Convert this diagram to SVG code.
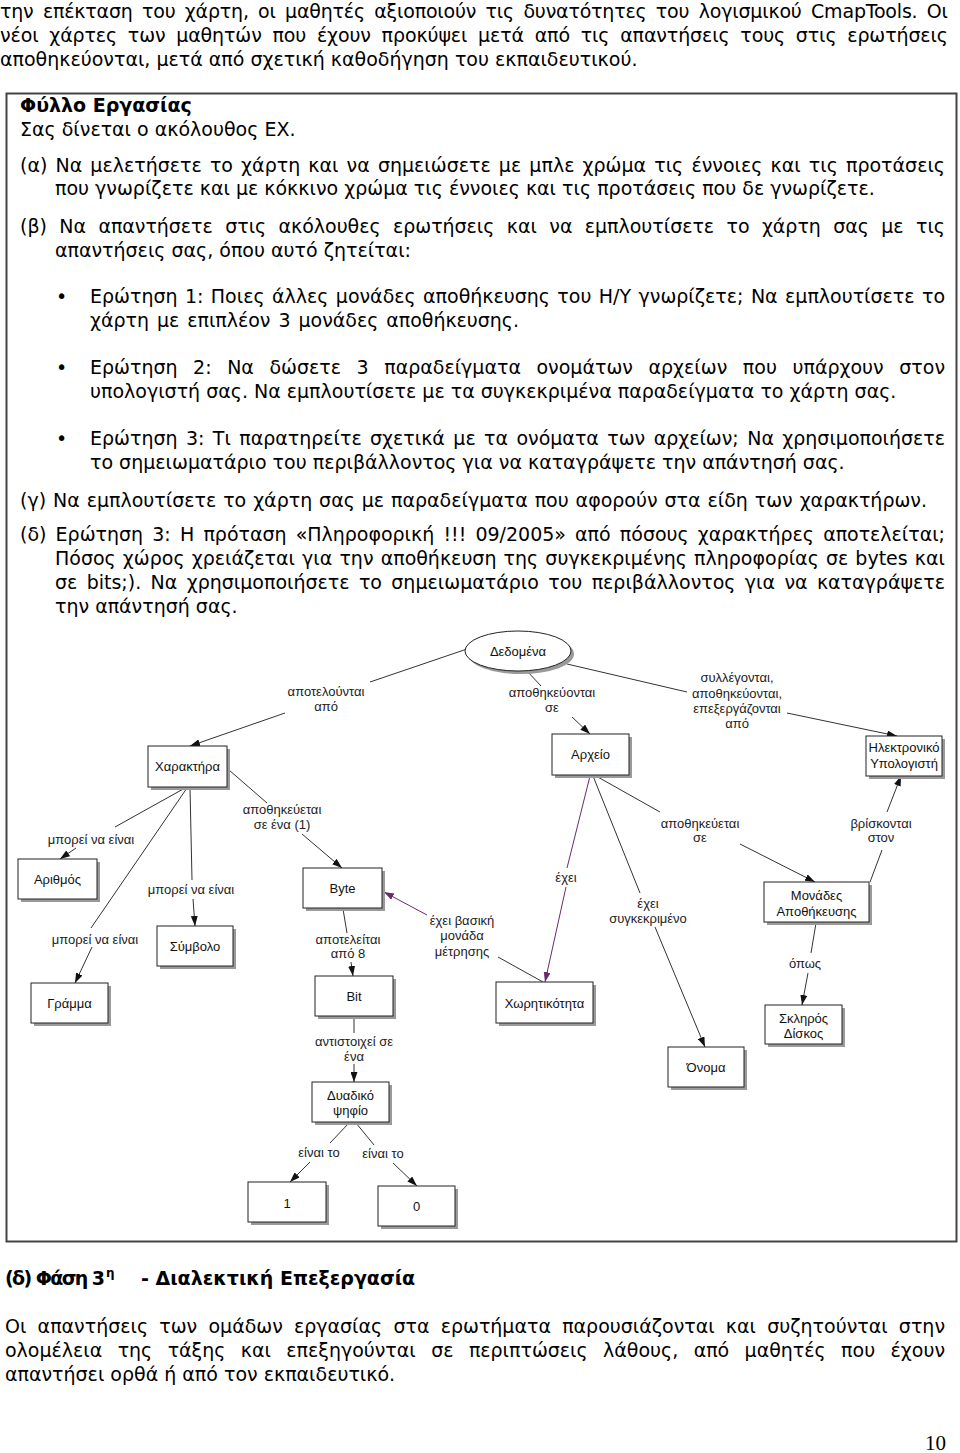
<svg xmlns="http://www.w3.org/2000/svg" width="960" height="1453" viewBox="0 0 960 1453">
<style>
.t{font-family:"DejaVu Sans",Verdana,sans-serif;font-size:19px;fill:#000}
.b{font-weight:bold}
.n{font-family:"Liberation Sans",Arial,sans-serif;font-size:13px;fill:#111;text-anchor:middle}
.l{font-family:"Liberation Sans",Arial,sans-serif;font-size:13px;fill:#222;text-anchor:middle}
.box{fill:#fff;stroke:#222;stroke-width:1}
.sh{fill:#9a9a9a}
.c{stroke:#333;stroke-width:1;fill:none}
.a{marker-end:url(#ah)}
.p{stroke:#6b2a6b}
.pa{marker-end:url(#ahp)}
</style>
<defs>
<marker id="ah" markerUnits="userSpaceOnUse" markerWidth="10" markerHeight="7" refX="10" refY="3.5" orient="auto"><path d="M0,0 L10,3.5 L0,7 z" fill="#111"/></marker>
<marker id="ahp" markerUnits="userSpaceOnUse" markerWidth="10" markerHeight="7" refX="10" refY="3.5" orient="auto"><path d="M0,0 L10,3.5 L0,7 z" fill="#6b2a6b"/></marker>
</defs>
<rect width="960" height="1453" fill="#fff"/>

<g id="text-top">
<text class="t" x="0" y="18" word-spacing="3.5" textLength="948" lengthAdjust="spacing">την επέκταση του χάρτη, οι μαθητές αξιοποιούν τις δυνατότητες του λογισμικού CmapTools. Οι</text>
<text class="t" x="0" y="42" word-spacing="4.8" textLength="948" lengthAdjust="spacing">νέοι χάρτες των μαθητών που έχουν προκύψει μετά από τις απαντήσεις τους στις ερωτήσεις</text>
<text class="t" x="0" y="66">αποθηκεύονται, μετά από σχετική καθοδήγηση του εκπαιδευτικού.</text>
</g>

<rect x="6.5" y="93.5" width="950" height="1148" fill="none" stroke="#444" stroke-width="2"/>

<g id="worksheet">
<text class="t b" x="20" y="112">Φύλλο Εργασίας</text>
<text class="t" x="20" y="136">Σας δίνεται ο ακόλουθος ΕΧ.</text>
<text class="t" x="20" y="172" word-spacing="2.1" textLength="925" lengthAdjust="spacing">(α) Να μελετήσετε το χάρτη και να σημειώσετε με μπλε χρώμα τις έννοιες και τις προτάσεις</text>
<text class="t" x="55" y="195">που γνωρίζετε και με κόκκινο χρώμα τις έννοιες και τις προτάσεις που δε γνωρίζετε.</text>
<text class="t" x="20" y="233" word-spacing="6.4" textLength="925" lengthAdjust="spacing">(β) Να απαντήσετε στις ακόλουθες ερωτήσεις και να εμπλουτίσετε το χάρτη σας με τις</text>
<text class="t" x="55" y="257">απαντήσεις σας, όπου αυτό ζητείται:</text>
<text class="t" x="56" y="303">•</text>
<text class="t" x="90" y="303" word-spacing="1.4" textLength="855" lengthAdjust="spacing">Ερώτηση 1: Ποιες άλλες μονάδες αποθήκευσης του Η/Υ γνωρίζετε; Να εμπλουτίσετε το</text>
<text class="t" x="90" y="327" word-spacing="2" textLength="429" lengthAdjust="spacing">χάρτη με επιπλέον 3 μονάδες αποθήκευσης.</text>
<text class="t" x="56" y="374">•</text>
<text class="t" x="90" y="374" word-spacing="9.5" textLength="855" lengthAdjust="spacing">Ερώτηση 2: Να δώσετε 3 παραδείγματα ονομάτων αρχείων που υπάρχουν στον</text>
<text class="t" x="90" y="398">υπολογιστή σας. Να εμπλουτίσετε με τα συγκεκριμένα παραδείγματα το χάρτη σας.</text>
<text class="t" x="56" y="445">•</text>
<text class="t" x="90" y="445" word-spacing="2.4" textLength="855" lengthAdjust="spacing">Ερώτηση 3: Τι παρατηρείτε σχετικά με τα ονόματα των αρχείων; Να χρησιμοποιήσετε</text>
<text class="t" x="90" y="469">το σημειωματάριο του περιβάλλοντος για να καταγράψετε την απάντησή σας.</text>
<text class="t" x="20" y="507" word-spacing="0.9" textLength="907" lengthAdjust="spacing">(γ) Να εμπλουτίσετε το χάρτη σας με παραδείγματα που αφορούν στα είδη των χαρακτήρων.</text>
<text class="t" x="20" y="541" word-spacing="3.2" textLength="925" lengthAdjust="spacing">(δ) Ερώτηση 3: Η πρόταση «Πληροφορική !!! 09/2005» από πόσους χαρακτήρες αποτελείται;</text>
<text class="t" x="55" y="565" word-spacing="1.1" textLength="890" lengthAdjust="spacing">Πόσος χώρος χρειάζεται για την αποθήκευση της συγκεκριμένης πληροφορίας σε bytes και</text>
<text class="t" x="55" y="589" word-spacing="3.3" textLength="890" lengthAdjust="spacing">σε bits;). Να χρησιμοποιήσετε το σημειωματάριο του περιβάλλοντος για να καταγράψετε</text>
<text class="t" x="55" y="613">την απάντησή σας.</text>
</g>

<g id="connectors">
<line class="c" x1="467" y1="649" x2="370" y2="682"/>
<line class="c a" x1="285" y1="713" x2="190" y2="746"/>
<line class="c" x1="527" y1="671" x2="541" y2="686"/>
<line class="c a" x1="572" y1="717" x2="590" y2="734"/>
<line class="c" x1="567" y1="664" x2="687" y2="692"/>
<line class="c a" x1="787" y1="713" x2="897" y2="736"/>
<line class="c" x1="229" y1="770" x2="267" y2="803"/>
<line class="c a" x1="302" y1="834" x2="342" y2="868"/>
<line class="c" x1="185" y1="788" x2="115" y2="827"/>
<line class="c a" x1="76" y1="848" x2="60" y2="859"/>
<line class="c" x1="187" y1="788" x2="91" y2="928"/>
<line class="c a" x1="92" y1="947" x2="75" y2="983"/>
<line class="c" x1="190" y1="788" x2="192" y2="880"/>
<line class="c a" x1="193" y1="899" x2="195" y2="926"/>
<line class="c" x1="343" y1="909" x2="347" y2="933"/>
<line class="c a" x1="351" y1="962" x2="353" y2="976"/>
<line class="c" x1="354" y1="1017" x2="354" y2="1033"/>
<line class="c a" x1="354" y1="1064" x2="354" y2="1082"/>
<line class="c" x1="349" y1="1123" x2="330" y2="1143"/>
<line class="c a" x1="310" y1="1162" x2="290" y2="1182"/>
<line class="c" x1="356" y1="1123" x2="374" y2="1145"/>
<line class="c a" x1="393" y1="1163" x2="417" y2="1186"/>
<line class="c p" x1="590" y1="776" x2="567" y2="868"/>
<line class="c p pa" x1="566" y1="887" x2="545" y2="982"/>
<line class="c" x1="593" y1="776" x2="640" y2="893"/>
<line class="c a" x1="655" y1="927" x2="705" y2="1047"/>
<line class="c" x1="596" y1="776" x2="660" y2="812"/>
<line class="c a" x1="740" y1="844" x2="815" y2="882"/>
<line class="c" x1="870" y1="882" x2="882" y2="850"/>
<line class="c a" x1="887" y1="812" x2="901" y2="776"/>
<line class="c" x1="816" y1="923" x2="811" y2="953"/>
<line class="c a" x1="808" y1="973" x2="802" y2="1005"/>
<line class="c" x1="543" y1="982" x2="498" y2="957"/>
<line class="c p pa" x1="427" y1="915" x2="384" y2="892"/>
</g>

<g id="labels">
<text class="l" x="326" y="696">αποτελούνται</text><text class="l" x="326" y="711">από</text>
<text class="l" x="552" y="697">αποθηκεύονται</text><text class="l" x="552" y="712">σε</text>
<text class="l" x="737" y="682">συλλέγονται,</text><text class="l" x="737" y="698">αποθηκεύονται,</text><text class="l" x="737" y="713">επεξεργάζονται</text><text class="l" x="737" y="728">από</text>
<text class="l" x="282" y="814">αποθηκεύεται</text><text class="l" x="282" y="829">σε ένα (1)</text>
<text class="l" x="91" y="844">μπορεί να είναι</text>
<text class="l" x="191" y="893.5">μπορεί να είναι</text>
<text class="l" x="95" y="943.5">μπορεί να είναι</text>
<text class="l" x="348" y="943.5">αποτελείται</text><text class="l" x="348" y="957.5">από 8</text>
<text class="l" x="462" y="924.5">έχει βασική</text><text class="l" x="462" y="939.5">μονάδα</text><text class="l" x="462" y="955.5">μέτρησης</text>
<text class="l" x="566" y="881.5">έχει</text>
<text class="l" x="648" y="907.5">έχει</text><text class="l" x="648" y="922.5">συγκεκριμένο</text>
<text class="l" x="700" y="827.5">αποθηκεύεται</text><text class="l" x="700" y="841.5">σε</text>
<text class="l" x="881" y="827.5">βρίσκονται</text><text class="l" x="881" y="841.5">στον</text>
<text class="l" x="805" y="967.5">όπως</text>
<text class="l" x="354" y="1045.5">αντιστοιχεί σε</text><text class="l" x="354" y="1060.5">ένα</text>
<text class="l" x="319" y="1156.5">είναι το</text>
<text class="l" x="383" y="1157.5">είναι το</text>
</g>

<g id="n-dedomena"><ellipse class="sh" cx="521" cy="654" rx="53" ry="20"/><ellipse class="box" cx="518" cy="651" rx="53" ry="20"/><text class="n" x="518" y="655.5">Δεδομένα</text></g>
<g id="n-xaraktira"><rect class="sh" x="151" y="749" width="79" height="41"/><rect class="box" x="148" y="746" width="79" height="41"/><text class="n" x="187.5" y="771">Χαρακτήρα</text></g>
<g id="n-arxeio"><rect class="sh" x="555" y="737" width="77" height="41"/><rect class="box" x="552" y="734" width="77" height="41"/><text class="n" x="590.5" y="759">Αρχείο</text></g>
<g id="n-ypologisti"><rect class="sh" x="869" y="739" width="76" height="40"/><rect class="box" x="866" y="736" width="76" height="40"/><text class="n" x="904" y="751.5">Ηλεκτρονικό</text><text class="n" x="904" y="767.5">Υπολογιστή</text></g>
<g id="n-arithmos"><rect class="sh" x="21" y="862" width="79" height="40"/><rect class="box" x="18" y="859" width="79" height="40"/><text class="n" x="57.5" y="884">Αριθμός</text></g>
<g id="n-symvolo"><rect class="sh" x="160" y="929" width="76" height="40"/><rect class="box" x="157" y="926" width="76" height="40"/><text class="n" x="195" y="950.5">Σύμβολο</text></g>
<g id="n-gramma"><rect class="sh" x="34" y="986" width="77" height="40"/><rect class="box" x="31" y="983" width="77" height="40"/><text class="n" x="69.5" y="1007.5">Γράμμα</text></g>
<g id="n-byte"><rect class="sh" x="306" y="871" width="79" height="40"/><rect class="box" x="303" y="868" width="79" height="40"/><text class="n" x="342.5" y="892.5">Byte</text></g>
<g id="n-bit"><rect class="sh" x="318" y="979" width="78" height="40"/><rect class="box" x="315" y="976" width="78" height="40"/><text class="n" x="354" y="1000.5">Bit</text></g>
<g id="n-xoritikotita"><rect class="sh" x="499" y="985" width="97" height="41"/><rect class="box" x="496" y="982" width="97" height="41"/><text class="n" x="544.5" y="1007.5">Χωρητικότητα</text></g>
<g id="n-monades"><rect class="sh" x="767" y="885" width="105" height="40"/><rect class="box" x="764" y="882" width="105" height="40"/><text class="n" x="816.5" y="899.5">Μονάδες</text><text class="n" x="816.5" y="915.5">Αποθήκευσης</text></g>
<g id="n-skliros"><rect class="sh" x="768" y="1008" width="77" height="39"/><rect class="box" x="765" y="1005" width="77" height="39"/><text class="n" x="803.5" y="1022.5">Σκληρός</text><text class="n" x="803.5" y="1037.5">Δίσκος</text></g>
<g id="n-onoma"><rect class="sh" x="671" y="1050" width="76" height="40"/><rect class="box" x="668" y="1047" width="76" height="40"/><text class="n" x="706" y="1071.5">Όνομα</text></g>
<g id="n-dyadiko"><rect class="sh" x="315" y="1085" width="77" height="40"/><rect class="box" x="312" y="1082" width="77" height="40"/><text class="n" x="350.5" y="1099.5">Δυαδικό</text><text class="n" x="350.5" y="1114.5">ψηφίο</text></g>
<g id="n-one"><rect class="sh" x="251" y="1185" width="78" height="40"/><rect class="box" x="248" y="1182" width="78" height="40"/><text class="n" x="287" y="1207.5">1</text></g>
<g id="n-zero"><rect class="sh" x="381" y="1189" width="77" height="40"/><rect class="box" x="378" y="1186" width="77" height="40"/><text class="n" x="416.5" y="1210.5">0</text></g>

<g id="text-bottom">
<text class="t b" x="5" y="1285" textLength="100" lengthAdjust="spacing">(δ) Φάση 3</text>
<text class="t b" x="106" y="1277" style="font-size:12px">η</text>
<text class="t b" x="141" y="1285">- Διαλεκτική Επεξεργασία</text>
<text class="t" x="5" y="1333" word-spacing="5.2" textLength="940" lengthAdjust="spacing">Οι απαντήσεις των ομάδων εργασίας στα ερωτήματα παρουσιάζονται και συζητούνται στην</text>
<text class="t" x="5" y="1357" word-spacing="9.4" textLength="940" lengthAdjust="spacing">ολομέλεια της τάξης και επεξηγούνται σε περιπτώσεις λάθους, από μαθητές που έχουν</text>
<text class="t" x="5" y="1381">απαντήσει ορθά ή από τον εκπαιδευτικό.</text>
<text x="925" y="1450" style="font-family:'Liberation Serif','Times New Roman',serif;font-size:21px">10</text>
</g>
</svg>
